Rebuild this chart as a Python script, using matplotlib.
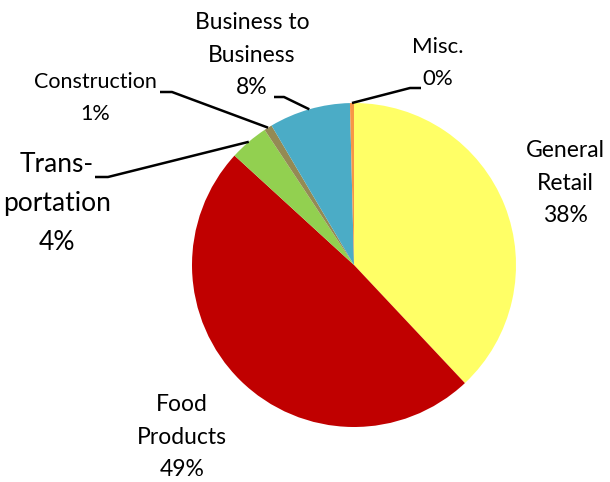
import numpy as np
import matplotlib
matplotlib.use("Agg")
import matplotlib.pyplot as plt

plt.rcParams['font.family'] = ['Lato', 'DejaVu Sans']

# Shares by sector, clockwise from 12 o'clock
categories = ["General\nRetail", "Food\nProducts", "Trans-\nportation",
              "Construction", "Business to\nBusiness", "Misc."]
shares = [38.0, 48.8, 3.9, 0.8, 8.1, 0.4]
colors = ["#FFFF66", "#C00000", "#92D050", "#948A54", "#4BACC6", "#F79646"]

W, H = 610, 482
fig = plt.figure(figsize=(W / 100, H / 100), dpi=100)
ax = fig.add_axes([0, 0, 1, 1])

cx, cy, r = 354, H - 265, 162
wedges, _ = ax.pie(shares, colors=colors, startangle=90, counterclock=False,
                   center=(cx, cy), radius=r, frame=True,
                   wedgeprops=dict(linewidth=0))
ax.set_xlim(0, W)
ax.set_ylim(0, H)
ax.set_aspect('equal')
ax.axis('off')


def edge_point(w):
    mid = np.deg2rad((w.theta1 + w.theta2) / 2)
    return cx + r * np.cos(mid), cy + r * np.sin(mid)


# label text position (centre), font size, leader elbow points (or None)
layout = [
    ((565, H - 183), 16.5, None),
    ((182, H - 437), 16.5, None),
    ((57, H - 203), 19, [(95, H - 177), (108, H - 177)]),
    ((95, H - 98), 15.5, [(160, H - 92), (172, H - 92)]),
    ((252, H - 55), 16.5, [(274, H - 97), (284, H - 97)]),
    ((438, H - 63), 16, [(421, H - 88), (410, H - 88)]),
]

for w, name, val, (pos, fs, elbow) in zip(wedges, categories, shares, layout):
    txt = f"{name}\n{val:.0f}%"
    ax.text(pos[0], pos[1], txt, ha='center', va='center', fontsize=fs,
            color='black', linespacing=1.7)
    if elbow:
        ex, ey = edge_point(w)
        xs = [elbow[0][0], elbow[1][0], ex]
        ys = [elbow[0][1], elbow[1][1], ey]
        ax.plot(xs, ys, color='black', linewidth=1.8, solid_capstyle='butt')

fig.savefig("out.png", dpi=100, facecolor='white')
